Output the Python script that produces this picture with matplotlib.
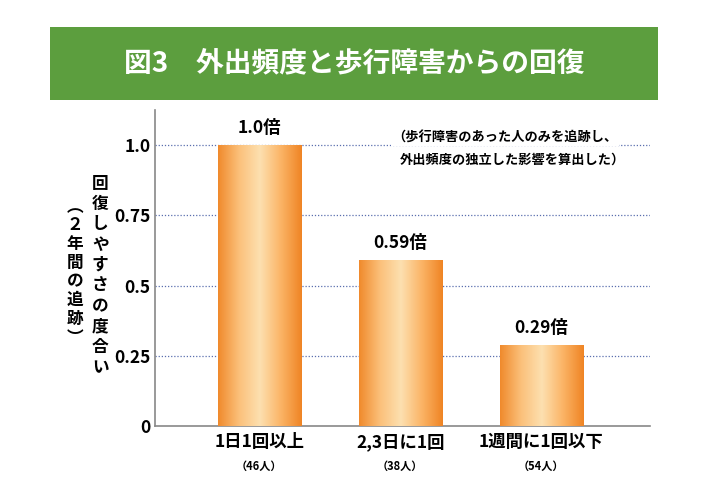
import numpy as np
import matplotlib.pyplot as plt
from matplotlib.colors import LinearSegmentedColormap
from matplotlib.patches import Rectangle
import matplotlib.transforms as mtransforms

plt.rcParams['font.family'] = ['Noto Sans CJK JP', 'DejaVu Sans']

categories = ['1日1回以上', '2,3日に1回', '1週間に1回以下']
counts = ['（46人）', '（38人）', '（54人）']
values = [1.0, 0.59, 0.29]
value_labels = ['1.0倍', '0.59倍', '0.29倍']
yticks = [0, 0.25, 0.5, 0.75, 1.0]
ytick_labels = ['0', '0.25', '0.5', '0.75', '1.0']

fig = plt.figure(figsize=(7.01, 4.95), dpi=100)
fig.patch.set_facecolor('white')

# green title banner
fig.patches.append(Rectangle((0.0713, 0.798), 0.867, 0.147, transform=fig.transFigure,
                             facecolor='#5c9e3e', edgecolor='none', zorder=0))
fig.text(0.505, 0.872, '図3　外出頻度と歩行障害からの回復', color='white',
         fontsize=20, fontweight='bold', ha='center', va='center')

ax = fig.add_axes([0.221, 0.139, 0.706, 0.639])
x = np.arange(len(categories))
width = 0.59
bars = ax.bar(x, values, width=width, color='none', edgecolor='none', zorder=3)

# orange cylinder-like gradient
cmap = LinearSegmentedColormap.from_list('org', ['#f08a2c', '#fbc07a', '#fde0b0', '#fbb466', '#ef8424'])
grad = np.linspace(0, 1, 256).reshape(1, -1)
for i, b in enumerate(bars):
    x0, w, h = b.get_x(), b.get_width(), b.get_height()
    im = ax.imshow(grad, cmap=cmap, aspect='auto', extent=[x0, x0 + w, 0, h], zorder=3)
    im.set_clip_path(b)
    ax.text(x0 + w / 2, h + 0.06, value_labels[i], ha='center',
            va='center', fontsize=12.5, fontweight='bold', zorder=5)

ax.set_xlim(-0.74, 2.77)
ax.set_ylim(0, 1.125)
for y in yticks[1:]:
    ax.axhline(y, color='#5a6fae', linestyle=(0, (1, 1.5)), linewidth=0.9, zorder=1)

ax.set_yticks(yticks)
ax.set_yticklabels(ytick_labels, fontsize=12.5, fontweight='bold')
ax.set_xticks([])
ax.tick_params(axis='y', length=0, pad=3)
for s in ['top', 'right']:
    ax.spines[s].set_visible(False)
for s in ['left', 'bottom']:
    ax.spines[s].set_color('#888888')
    ax.spines[s].set_linewidth(1.2)

trans = mtransforms.blended_transform_factory(ax.transData, ax.transAxes)
for i, (c, n) in enumerate(zip(categories, counts)):
    ax.text(i, -0.05, c, transform=trans, ha='center', va='center',
            fontsize=12.5, fontweight='bold')
    ax.text(i, -0.128, n, transform=trans, ha='center', va='center',
            fontsize=8, fontweight='bold')

# note
ax.text(0.943, 1.025, '（歩行障害のあった人のみを追跡し、', fontsize=9.5, fontweight='bold',
        ha='left', va='center', zorder=6,
        bbox=dict(facecolor='white', edgecolor='none', pad=1))
ax.text(1.0, 0.947, '外出頻度の独立した影響を算出した）', fontsize=9.5, fontweight='bold',
        ha='left', va='center', zorder=6)

# vertical y label, two columns
label1 = '回復しやすさの度合い'
label2 = '︵２年間の追跡︶'
fig.text(0.143, 0.444, '\n'.join(label1), fontsize=12, fontweight='bold', ha='center',
         va='center', linespacing=1.17)
fig.text(0.107, 0.45, '\n'.join(label2), fontsize=12, fontweight='bold', ha='center',
         va='center', linespacing=1.05)

fig.savefig('out.png', dpi=100)
